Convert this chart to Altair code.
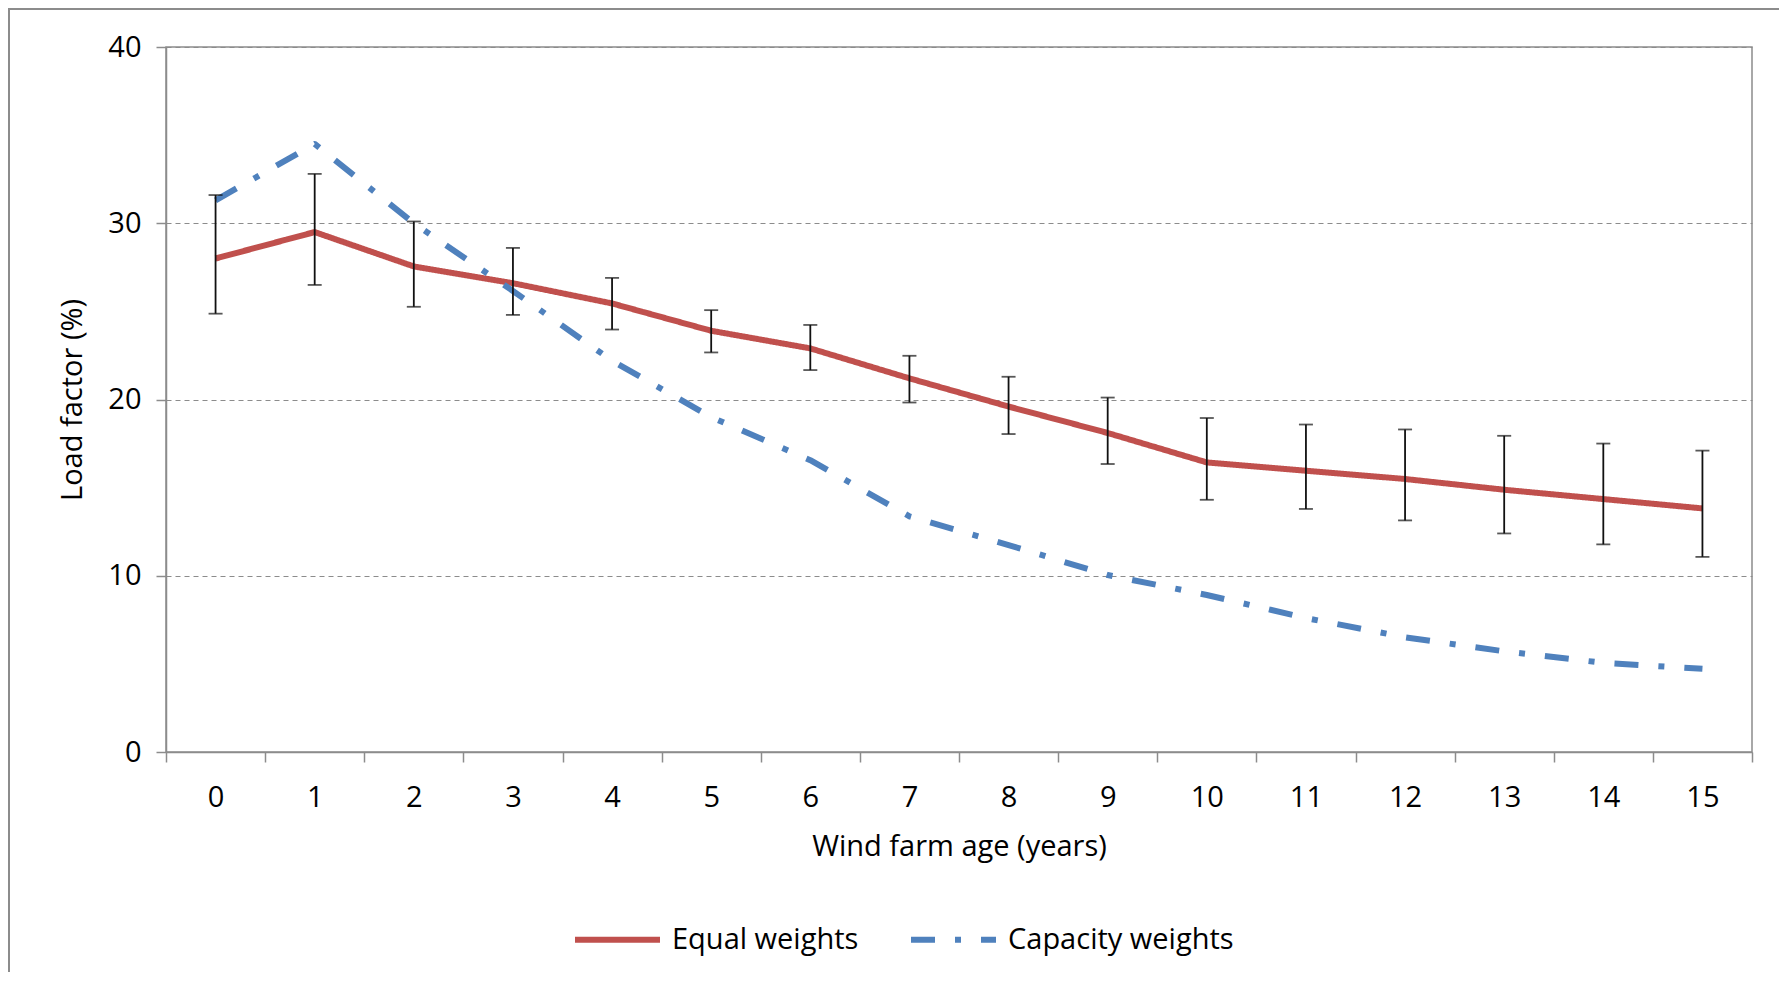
import altair as alt
import pandas as pd

# ---- data ----
ages = list(range(16))
equal_weights = [28.0, 29.5, 27.55, 26.6, 25.45, 23.9, 22.9, 21.2, 19.6, 18.1, 16.43, 15.96, 15.49, 14.88, 14.35, 13.82]
equal_upper = [31.6, 32.8, 30.1, 28.6, 26.9, 25.07, 24.23, 22.48, 21.29, 20.11, 18.95, 18.58, 18.3, 17.94, 17.5, 17.1]
equal_lower = [24.87, 26.5, 25.26, 24.8, 23.97, 22.67, 21.67, 19.83, 18.04, 16.34, 14.31, 13.79, 13.14, 12.4, 11.78, 11.07]
capacity_weights = [31.3, 34.5, 30.0, 26.16, 22.2, 19.0, 16.56, 13.37, 11.74, 10.04, 8.91, 7.6, 6.51, 5.71, 5.06, 4.72]
series_names = ["Equal weights", "Capacity weights"]
series_colors = ["#C0504D", "#4F81BD"]
y_ticks = [0, 10, 20, 30, 40]

FONT = "Open Sans"
FS = 29
GRAY = "#8c8c8c"
W, H = 1586, 705

lines_df = pd.DataFrame({
    "age": ages * 2,
    "value": equal_weights + capacity_weights,
    "series": [series_names[0]] * len(ages) + [series_names[1]] * len(ages),
})
err_df = pd.DataFrame({"age": ages, "upper": equal_upper, "lower": equal_lower})

x_enc = alt.X(
    "age:O",
    scale=alt.Scale(paddingInner=0, paddingOuter=0),
    axis=alt.Axis(
        title="Wind farm age (years)",
        labelAngle=0,
        tickBand="extent",
        grid=False,
        labelPadding=21,
        titleX=W / 2,
        titleY=103,
        titleBaseline="alphabetic",
        titleAlign="center",
    ),
)
y_scale = alt.Scale(domain=[0, 40], nice=False, zero=True)
y_axis = alt.Axis(
    values=y_ticks,
    format="d",
    grid=True,
    gridColor=GRAY,
    gridDash=[5, 4],
    gridWidth=1.2,
    labelPadding=15,
    titleX=-94,
    titleY=H / 2,
    titleAngle=270,
    titleAlign="center",
    titleBaseline="middle",
)
Y_TITLE = "Load factor (%)"

legend = alt.Legend(
    orient="none",
    legendX=406,
    legendY=847,
    direction="horizontal",
    title=None,
    symbolType="stroke",
    symbolSize=7225,
    symbolStrokeWidth=6,
    labelFont=FONT,
    labelFontSize=FS,
    labelColor="#000",
    labelOffset=9,
    labelLimit=500,
    columnPadding=40,
)

lines = alt.Chart(lines_df).mark_line(strokeWidth=6, strokeJoin="round").encode(
    x=x_enc,
    y=alt.Y("value:Q", scale=y_scale, axis=y_axis, title=Y_TITLE),
    color=alt.Color("series:N", scale=alt.Scale(domain=series_names, range=series_colors), legend=legend),
    strokeDash=alt.StrokeDash(
        "series:N",
        scale=alt.Scale(domain=series_names, range=[[1, 0], [24, 20, 6, 20]]),
        legend=legend,
    ),
    order=alt.Order("age:O"),
)

rules = alt.Chart(err_df).mark_rule(color="#111", strokeWidth=1.8).encode(
    x=x_enc,
    y=alt.Y("lower:Q", scale=y_scale, axis=y_axis, title=Y_TITLE),
    y2="upper:Q",
)
cap_top = alt.Chart(err_df).mark_tick(color="#111", thickness=1.8, size=14).encode(
    x=x_enc,
    y=alt.Y("upper:Q", scale=y_scale, axis=y_axis, title=Y_TITLE),
)
cap_bot = alt.Chart(err_df).mark_tick(color="#111", thickness=1.8, size=14).encode(
    x=x_enc,
    y=alt.Y("lower:Q", scale=y_scale, axis=y_axis, title=Y_TITLE),
)

frame = alt.Chart(pd.DataFrame({"k": [0]})).mark_rect(
    filled=False, stroke=GRAY, strokeWidth=2
).encode(
    x=alt.value(-157), x2=alt.value(W + 60), y=alt.value(-38), y2=alt.value(H + 400)
)

chart = alt.layer(frame, lines, rules, cap_top, cap_bot).properties(
    width=W,
    height=H,
    autosize=alt.AutoSizeParams(type="none"),
    padding={"left": 158, "top": 39, "right": 27, "bottom": 220},
    background="white",
).configure_view(
    stroke=GRAY, strokeWidth=1.5
).configure_axis(
    labelFont=FONT,
    labelFontSize=FS,
    labelColor="#000",
    titleFont=FONT,
    titleFontSize=FS,
    titleFontWeight="normal",
    titleColor="#000",
    domainColor=GRAY,
    domainWidth=1.5,
    tickColor=GRAY,
    tickWidth=1.5,
    tickSize=10,
)

chart.save("out.html", embed_options={"renderer": "svg", "actions": False})
